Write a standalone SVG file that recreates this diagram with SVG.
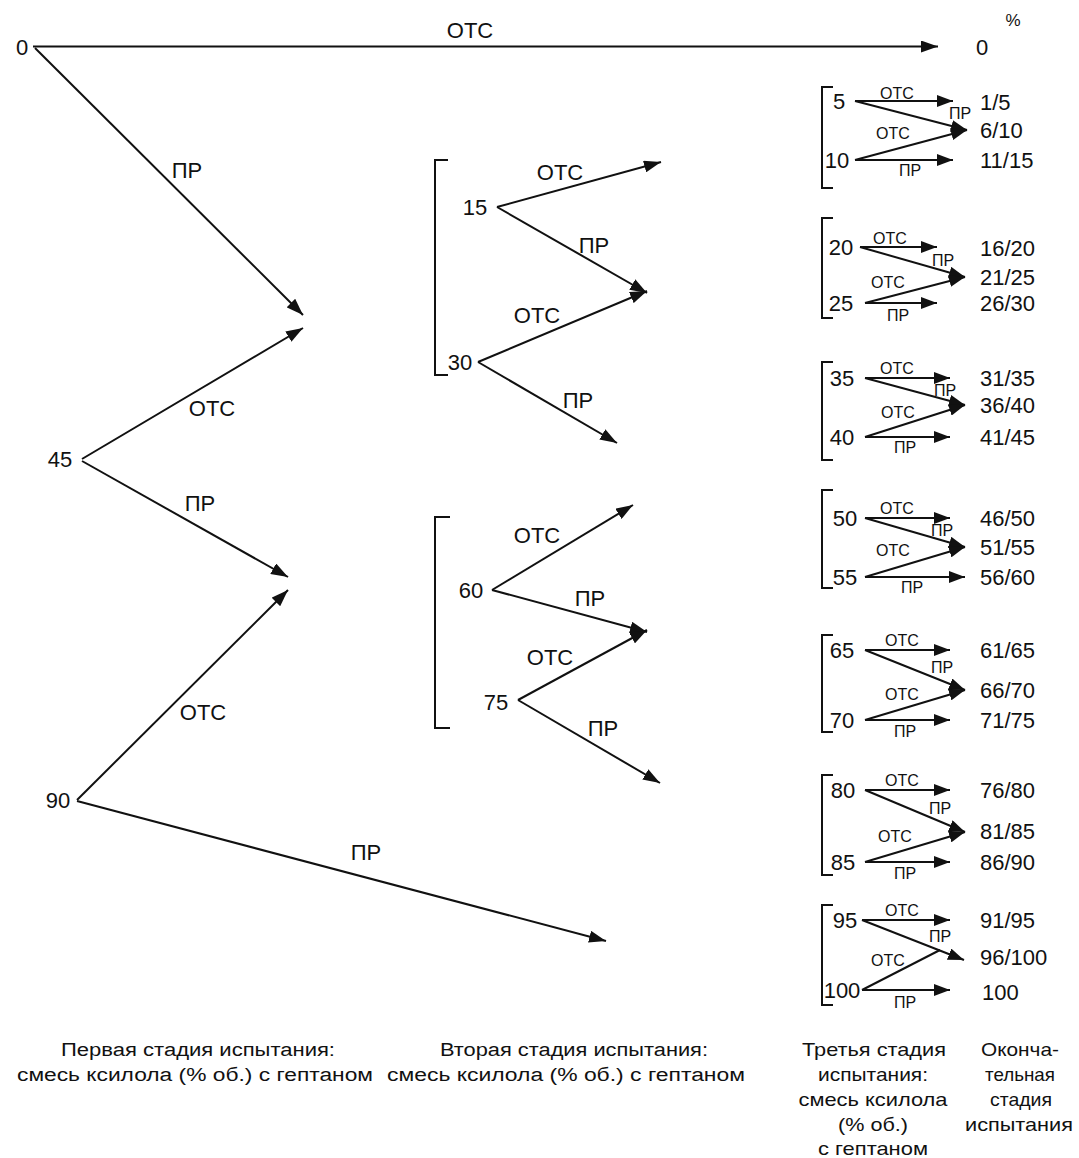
<svg xmlns="http://www.w3.org/2000/svg" width="1079" height="1158" viewBox="0 0 1079 1158">
<style>
text{font-family:"Liberation Sans",Arial,sans-serif;fill:#111}
.n{font-size:22px;text-anchor:middle}
.l{font-size:22px;text-anchor:middle}
.s{font-size:16px;text-anchor:middle}
.r{font-size:22px;text-anchor:start}
.c{font-size:18px;text-anchor:middle}
.c2{font-size:19px;text-anchor:middle}
.ln{stroke:#111;stroke-width:2;fill:none}
.a{stroke:#111;stroke-width:2;fill:none;marker-end:url(#ah)}
.as{stroke:#111;stroke-width:2;fill:none;marker-end:url(#ahs)}
.br{stroke:#111;stroke-width:2;fill:none}
</style>
<defs>
<marker id="ah" markerUnits="userSpaceOnUse" markerWidth="18" markerHeight="12" refX="17" refY="6" orient="auto"><path d="M0,0 L17,6 L0,12 z" fill="#111"/></marker>
<marker id="ahs" markerUnits="userSpaceOnUse" markerWidth="17" markerHeight="12" refX="16" refY="6" orient="auto"><path d="M0,0 L16,6 L0,12 z" fill="#111"/></marker>
</defs>
<rect width="1079" height="1158" fill="#fff"/>

<g id="connectors">
<!-- stage 1 -->
<line class="a" x1="33" y1="46.5" x2="938" y2="46.5"/>
<line class="a" x1="35" y1="48" x2="303" y2="315"/>
<line class="a" x1="82" y1="459" x2="303" y2="328"/>
<line class="a" x1="82" y1="461" x2="288" y2="577"/>
<line class="a" x1="77" y1="800" x2="288" y2="590"/>
<line class="a" x1="77" y1="801" x2="606" y2="941"/>
<!-- stage 2 -->
<line class="a" x1="497" y1="207" x2="661" y2="162"/>
<line class="a" x1="497" y1="207" x2="647" y2="293"/>
<line class="a" x1="478" y1="362" x2="647" y2="291"/>
<line class="a" x1="478" y1="362" x2="617" y2="443"/>
<line class="a" x1="492" y1="590" x2="633" y2="505"/>
<line class="a" x1="492" y1="590" x2="647" y2="632"/>
<line class="a" x1="518" y1="700" x2="647" y2="630"/>
<line class="a" x1="518" y1="700" x2="660" y2="783"/>
<!-- stage 3 -->
<line class="as" x1="855" y1="101" x2="953" y2="101"/>
<line class="as" x1="855" y1="101" x2="967" y2="130"/>
<line class="as" x1="855" y1="160" x2="967" y2="130"/>
<line class="as" x1="855" y1="160" x2="953" y2="160"/>

<line class="as" x1="860" y1="247" x2="937" y2="247"/>
<line class="as" x1="860" y1="247" x2="965" y2="277"/>
<line class="as" x1="865" y1="303" x2="965" y2="277"/>
<line class="as" x1="865" y1="303" x2="937" y2="303"/>

<line class="as" x1="865" y1="378" x2="950" y2="378"/>
<line class="as" x1="865" y1="378" x2="965" y2="405"/>
<line class="as" x1="865" y1="437" x2="965" y2="405"/>
<line class="as" x1="865" y1="437" x2="950" y2="437"/>

<line class="as" x1="865" y1="518" x2="950" y2="518"/>
<line class="as" x1="865" y1="518" x2="965" y2="547"/>
<line class="as" x1="865" y1="577" x2="965" y2="547"/>
<line class="as" x1="865" y1="577" x2="965" y2="577"/>

<line class="as" x1="865" y1="650" x2="950" y2="650"/>
<line class="as" x1="865" y1="650" x2="965" y2="690"/>
<line class="as" x1="865" y1="720" x2="965" y2="690"/>
<line class="as" x1="865" y1="720" x2="950" y2="720"/>

<line class="as" x1="865" y1="790" x2="950" y2="790"/>
<line class="as" x1="865" y1="790" x2="965" y2="832"/>
<line class="as" x1="865" y1="862" x2="965" y2="832"/>
<line class="as" x1="865" y1="862" x2="950" y2="862"/>

<line class="as" x1="862" y1="920" x2="950" y2="920"/>
<line class="as" x1="862" y1="920" x2="964" y2="960"/>
<line class="ln" x1="862" y1="990" x2="940" y2="950"/>
<line class="as" x1="862" y1="990" x2="950" y2="990"/>
</g>

<g id="edge-labels">
<text class="l" x="470" y="38">ОТС</text>
<text class="l" x="187" y="178">ПР</text>
<text class="l" x="212" y="416">ОТС</text>
<text class="l" x="200" y="511">ПР</text>
<text class="l" x="203" y="720">ОТС</text>
<text class="l" x="366" y="860">ПР</text>

<text class="l" x="560" y="180">ОТС</text>
<text class="l" x="594" y="253">ПР</text>
<text class="l" x="537" y="323">ОТС</text>
<text class="l" x="578" y="408">ПР</text>
<text class="l" x="537" y="543">ОТС</text>
<text class="l" x="590" y="606">ПР</text>
<text class="l" x="550" y="665">ОТС</text>
<text class="l" x="603" y="736">ПР</text>

<text class="s" x="897" y="99">ОТС</text>
<text class="s" x="960" y="119">ПР</text>
<text class="s" x="893" y="139">ОТС</text>
<text class="s" x="910" y="176">ПР</text>

<text class="s" x="890" y="244">ОТС</text>
<text class="s" x="943" y="266">ПР</text>
<text class="s" x="888" y="288">ОТС</text>
<text class="s" x="898" y="321">ПР</text>

<text class="s" x="897" y="374">ОТС</text>
<text class="s" x="945" y="396">ПР</text>
<text class="s" x="898" y="418">ОТС</text>
<text class="s" x="905" y="453">ПР</text>

<text class="s" x="897" y="514">ОТС</text>
<text class="s" x="942" y="536">ПР</text>
<text class="s" x="893" y="556">ОТС</text>
<text class="s" x="912" y="593">ПР</text>

<text class="s" x="902" y="646">ОТС</text>
<text class="s" x="942" y="673">ПР</text>
<text class="s" x="902" y="700">ОТС</text>
<text class="s" x="905" y="737">ПР</text>

<text class="s" x="902" y="786">ОТС</text>
<text class="s" x="940" y="814">ПР</text>
<text class="s" x="895" y="842">ОТС</text>
<text class="s" x="905" y="879">ПР</text>

<text class="s" x="902" y="916">ОТС</text>
<text class="s" x="940" y="942">ПР</text>
<text class="s" x="888" y="966">ОТС</text>
<text class="s" x="905" y="1008">ПР</text>
</g>

<g id="stage1">
<text class="n" x="22" y="55">0</text>
<text class="n" x="60" y="467">45</text>
<text class="n" x="58" y="808">90</text>
</g>

<g id="stage2">
<path class="br" d="M448,160 H435 V375 H448"/>
<text class="n" x="475" y="215">15</text>
<text class="n" x="460" y="370">30</text>
<path class="br" d="M450,517 H435 V728 H450"/>
<text class="n" x="471" y="598">60</text>
<text class="n" x="496" y="710">75</text>
</g>

<g id="stage3">
<path class="br" d="M833,87 H822 V188 H833"/>
<text class="n" x="839" y="109">5</text>
<text class="n" x="837" y="168">10</text>
<path class="br" d="M833,218 H822 V318 H833"/>
<text class="n" x="841" y="255">20</text>
<text class="n" x="841" y="311">25</text>
<path class="br" d="M833,362 H822 V460 H833"/>
<text class="n" x="842" y="386">35</text>
<text class="n" x="842" y="445">40</text>
<path class="br" d="M833,490 H822 V588 H833"/>
<text class="n" x="845" y="526">50</text>
<text class="n" x="845" y="585">55</text>
<path class="br" d="M833,635 H822 V732 H833"/>
<text class="n" x="842" y="658">65</text>
<text class="n" x="842" y="728">70</text>
<path class="br" d="M833,775 H822 V875 H833"/>
<text class="n" x="843" y="798">80</text>
<text class="n" x="843" y="870">85</text>
<path class="br" d="M833,905 H822 V1005 H833"/>
<text class="n" x="845" y="928">95</text>
<text class="n" x="842" y="998">100</text>
</g>

<g id="final">
<text class="r" x="976" y="55">0</text>
<text x="1013" y="26" style="font-size:17px;text-anchor:middle">%</text>
<text class="r" x="980" y="110">1/5</text>
<text class="r" x="980" y="138">6/10</text>
<text class="r" x="980" y="168">11/15</text>
<text class="r" x="980" y="256">16/20</text>
<text class="r" x="980" y="285">21/25</text>
<text class="r" x="980" y="311">26/30</text>
<text class="r" x="980" y="386">31/35</text>
<text class="r" x="980" y="413">36/40</text>
<text class="r" x="980" y="445">41/45</text>
<text class="r" x="980" y="526">46/50</text>
<text class="r" x="980" y="555">51/55</text>
<text class="r" x="980" y="585">56/60</text>
<text class="r" x="980" y="658">61/65</text>
<text class="r" x="980" y="698">66/70</text>
<text class="r" x="980" y="728">71/75</text>
<text class="r" x="980" y="798">76/80</text>
<text class="r" x="980" y="839">81/85</text>
<text class="r" x="980" y="870">86/90</text>
<text class="r" x="980" y="928">91/95</text>
<text class="r" x="980" y="965">96/100</text>
<text class="r" x="982" y="1000">100</text>
</g>

<g id="captions">
<text class="c" x="198" y="1056" textLength="274" lengthAdjust="spacingAndGlyphs">Первая стадия испытания:</text>
<text class="c" x="195" y="1081" textLength="356" lengthAdjust="spacingAndGlyphs">смесь ксилола (% об.) с гептаном</text>
<text class="c" x="574" y="1056" textLength="268" lengthAdjust="spacingAndGlyphs">Вторая стадия испытания:</text>
<text class="c" x="566" y="1081" textLength="358" lengthAdjust="spacingAndGlyphs">смесь ксилола (% об.) с гептаном</text>
<text class="c2" x="874" y="1056" textLength="144" lengthAdjust="spacingAndGlyphs">Третья стадия</text>
<text class="c2" x="873" y="1081" textLength="110" lengthAdjust="spacingAndGlyphs">испытания:</text>
<text class="c2" x="873" y="1106" textLength="149" lengthAdjust="spacingAndGlyphs">смесь ксилола</text>
<text class="c2" x="873" y="1131" textLength="70" lengthAdjust="spacingAndGlyphs">(% об.)</text>
<text class="c2" x="873" y="1155" textLength="110" lengthAdjust="spacingAndGlyphs">с гептаном</text>
<text class="c2" x="1020" y="1056" textLength="78" lengthAdjust="spacingAndGlyphs">Оконча-</text>
<text class="c2" x="1020" y="1081" textLength="70" lengthAdjust="spacingAndGlyphs">тельная</text>
<text class="c2" x="1021" y="1106" textLength="62" lengthAdjust="spacingAndGlyphs">стадия</text>
<text class="c2" x="1019" y="1131" textLength="108" lengthAdjust="spacingAndGlyphs">испытания</text>
</g>
</svg>
